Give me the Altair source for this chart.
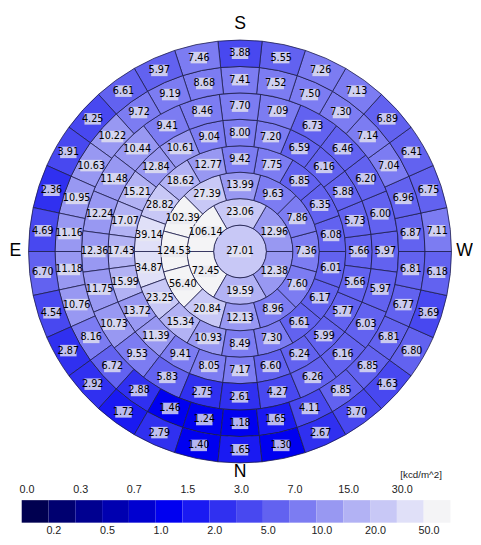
import altair as alt
import pandas as pd
import numpy as np

# Sky luminance values [kcd/m^2], ring by ring from the zenith outward.
center = [27.01]
ring2 = [12.96, 23.06, 106.14, 72.45, 19.59, 12.38]
ring3 = [7.36, 7.86, 9.63, 13.99, 27.39, 102.39, 124.53, 56.40, 20.84, 12.13, 8.96, 7.60]
ring4 = [6.08, 6.35, 6.85, 7.75, 9.42, 12.77, 18.62, 28.82, 39.14, 34.87, 23.25, 15.34,
         10.93, 8.49, 7.30, 6.61, 6.17, 6.01]
ring5 = [5.66, 5.73, 5.88, 6.16, 6.59, 7.20, 8.00, 9.04, 10.61, 12.84, 15.21, 17.07,
         17.43, 15.99, 13.72, 11.39, 9.41, 8.05, 7.17, 6.60, 6.24, 5.99, 5.77, 5.66]
ring6 = [5.97, 6.00, 6.20, 6.46, 6.73, 7.09, 7.70, 8.46, 9.41, 10.44, 11.48, 12.24,
         12.36, 11.75, 10.73, 9.53, 5.83, 2.75, 2.61, 4.27, 6.26, 6.16, 6.03, 5.97]
ring7 = [6.87, 6.96, 7.04, 7.14, 7.30, 7.50, 7.52, 7.41, 8.68, 9.19, 9.72, 10.22,
         10.63, 10.95, 11.16, 11.18, 10.76, 8.16, 6.72, 2.88, 1.46, 1.24, 1.18, 1.65,
         4.11, 6.85, 6.85, 6.81, 6.77, 6.81]
ring8 = [7.11, 6.75, 6.41, 6.89, 7.13, 7.26, 5.55, 3.88, 7.46, 5.97, 6.61, 4.25,
         3.91, 2.36, 4.69, 6.70, 4.54, 2.87, 2.92, 1.72, 2.79, 1.40, 1.65, 1.30,
         2.67, 3.70, 4.63, 6.80, 3.69, 6.18]
rings = [center, ring2, ring3, ring4, ring5, ring6, ring7, ring8]
# angle of the first cell centre (deg, counter-clockwise from W on screen, S up)
first_angle = [0, 30, 0, 10, 0, 0, 6, 6]

directions = ["S", "W", "N", "E"]
direction_angle = [90, 0, 270, 180]

bounds = [0.0, 0.2, 0.3, 0.5, 0.7, 1.0, 1.5, 2.0, 3.0, 5.0, 7.0, 10.0, 15.0, 20.0, 30.0, 50.0]
bound_labels = ["0.0", "0.2", "0.3", "0.5", "0.7", "1.0", "1.5", "2.0", "3.0", "5.0",
                "7.0", "10.0", "15.0", "20.0", "30.0", "50.0"]
palette = ["#000050", "#000070", "#000090", "#0000b0", "#0000d0", "#0000f0",
           "#1a1af2", "#3030f0", "#4848f0", "#6262f0", "#7c7cf2", "#9898f2",
           "#b2b2f4", "#c8c8f6", "#e0e0f8", "#f4f4f6"]

rows = []
for k, vals in enumerate(rings):
    n = len(vals)
    half = 180.0 / n
    for j, v in enumerate(vals):
        phi = first_angle[k] + j * 360.0 / n
        if k == 0:
            t0, t1, r0, r1, rm = 0.0, 360.0, 0.0, 1.0, 0.0
        else:
            t0, t1, r0, r1, rm = 90 - phi - half, 90 - phi + half, k, k + 1, k + 0.5
        lab = f"{v:.2f}"
        rows.append(dict(value=v, t0=t0, t1=t1, tm=90 - phi, r0=r0, r1=r1, rm=rm,
                         px=rm * np.cos(np.radians(phi)), py=rm * np.sin(np.radians(phi)),
                         label=lab, nc=str(len(lab))))
df = pd.DataFrame(rows)

dir_df = pd.DataFrame({"label": directions,
                       "tm": [90 - a for a in direction_angle],
                       "rm": [8.62, 8.5, 8.35, 8.5]})

cb_df = pd.DataFrame({"i": list(range(16)), "i1": list(range(1, 17)), "lo": bounds,
                      "lab": bound_labels,
                      "row": ["t" if i % 2 == 0 else "b" for i in range(16)]})
cb_df["ix"] = cb_df["i"] + 0.2

NARROW = "Liberation Sans Narrow, Arial Narrow, DejaVu Sans Condensed, sans-serif"
SANS = "Liberation Sans, Arial, sans-serif"

theta_scale = alt.Scale(type="linear", domain=[0, 360], range=[0, 2 * np.pi])
r_scale = alt.Scale(type="linear", domain=[0, 8], range=[0, 216])
color_scale = alt.Scale(type="threshold", domain=bounds[1:], range=palette)
cb_x = alt.Scale(type="linear", domain=[0, 16], range=[14, 452], nice=False, zero=False)

arcs = alt.Chart(df).mark_arc(stroke="#1c1c4c", strokeWidth=0.8).encode(
    theta=alt.Theta("t0:Q", scale=theta_scale, stack=False),
    theta2="t1:Q",
    radius=alt.Radius("r1:Q", scale=r_scale),
    radius2="r0:Q",
    color=alt.Color("value:Q", scale=color_scale, legend=None),
)

p4 = "M-0.6,-0.42H0.6V0.42H-0.6Z"
p5 = "M-0.8,-0.42H0.8V0.42H-0.8Z"
p6 = "M-0.98,-0.42H0.98V0.42H-0.98Z"
boxes = alt.Chart(df).mark_point(filled=True, color="#e8e8f0", fillOpacity=0.78,
                                 strokeWidth=0, size=784).encode(
    x=alt.X("px:Q", scale=alt.Scale(domain=[-237 / 27, 237 / 27], nice=False, zero=False), axis=None),
    y=alt.Y("py:Q", scale=alt.Scale(domain=[-9, 9], nice=False, zero=False), axis=None),
    shape=alt.Shape("nc:N", scale=alt.Scale(domain=["4", "5", "6"], range=[p4, p5, p6]), legend=None),
)

texts = alt.Chart(df).mark_text(font=NARROW, fontSize=11, color="black").encode(
    theta=alt.Theta("tm:Q", scale=theta_scale, stack=False),
    radius=alt.Radius("rm:Q", scale=r_scale),
    text="label:N",
)

dirs = alt.Chart(dir_df).mark_text(font=SANS, fontSize=18, color="black").encode(
    theta=alt.Theta("tm:Q", scale=theta_scale, stack=False),
    radius=alt.Radius("rm:Q", scale=r_scale),
    text="label:N",
)

cbar = alt.Chart(cb_df).mark_rect().encode(
    x=alt.X("i:Q", scale=cb_x, axis=None),
    x2="i1:Q",
    y=alt.value(497),
    y2=alt.value(520),
    color=alt.Color("lo:Q", scale=color_scale, legend=None),
)

cb_labels = alt.Chart(cb_df).mark_text(font=SANS, fontSize=11, color="#222222").encode(
    x=alt.X("ix:Q", scale=cb_x, axis=None),
    y=alt.Y("row:N", scale=alt.Scale(domain=["t", "b"], range=[487, 529], padding=0), axis=None),
    text="lab:N",
)

unit = alt.Chart(pd.DataFrame({"t": ["[kcd/m^2]"]})).mark_text(
    font=SANS, fontSize=10, color="#222222").encode(
    text="t:N", x=alt.value(422), y=alt.value(471))

chart = alt.layer(arcs, boxes, texts, dirs, cbar, cb_labels, unit).resolve_scale(
    x="independent", y="independent"
).properties(width=474, height=486, padding=0).configure_view(stroke="transparent")

chart.save("out.html", embed_options={"renderer": "svg", "actions": False})
